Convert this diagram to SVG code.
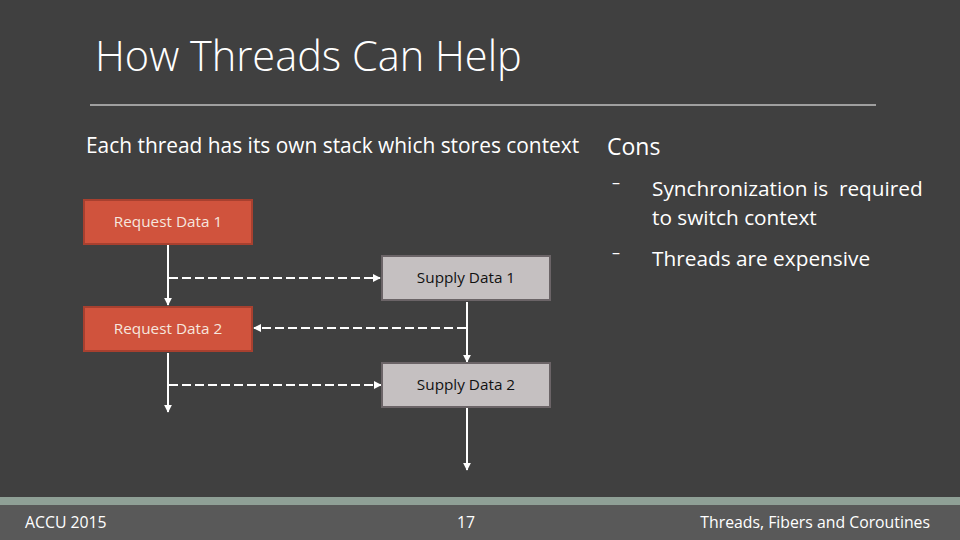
<svg xmlns="http://www.w3.org/2000/svg" width="960" height="540" viewBox="0 0 960 540">
<style>
.t{font-family:"Open Sans","Liberation Sans",sans-serif;fill:#ffffff}
.req rect{fill:#d0533d;stroke:#a8402f;stroke-width:2}
.req text{font-family:"Open Sans","Liberation Sans",sans-serif;font-size:15.3px;fill:#f6e6de;text-anchor:middle}
.sup rect{fill:#c5c0c1;stroke:#6b6467;stroke-width:2}
.sup text{font-family:"Open Sans","Liberation Sans",sans-serif;font-size:15.3px;fill:#111;text-anchor:middle}
.ln{stroke:#ffffff;stroke-width:2;fill:none}
.ds{stroke:#ffffff;stroke-width:2;fill:none;stroke-dasharray:9 4}
</style>
<defs>
<marker id="ah" viewBox="0 0 10 10" refX="9" refY="5" markerWidth="4" markerHeight="4" orient="auto" markerUnits="strokeWidth">
<path d="M0,0 L10,5 L0,10 z" fill="#ffffff"/>
</marker>
</defs>
<rect x="0" y="0" width="960" height="540" fill="#404040"/>
<rect x="0" y="497" width="960" height="8" fill="#8fa096"/>
<rect x="0" y="505" width="960" height="35" fill="#595959"/>
<text class="t" x="95" y="71" font-size="41.5" font-weight="300">How Threads Can Help</text>
<line x1="90" y1="105" x2="876" y2="105" stroke="#ffffff" stroke-width="1"/>
<text class="t" x="86" y="153" font-size="20.9">Each thread has its own stack which stores context</text>
<text class="t" x="607" y="155" font-size="23">Cons</text>
<text class="t" x="612" y="188" font-size="16">–</text>
<text class="t" x="652" y="196" font-size="20.8" xml:space="preserve">Synchronization is  required</text>
<text class="t" x="652" y="225" font-size="20.8">to switch context</text>
<text class="t" x="612" y="258" font-size="16">–</text>
<text class="t" x="652" y="266" font-size="20.8">Threads are expensive</text>
<g id="connectors">
<line class="ln" x1="168" y1="245" x2="168" y2="305" marker-end="url(#ah)"/>
<line class="ln" x1="168" y1="353" x2="168" y2="412" marker-end="url(#ah)"/>
<line class="ln" x1="467" y1="302" x2="467" y2="362" marker-end="url(#ah)"/>
<line class="ln" x1="467" y1="408" x2="467" y2="470" marker-end="url(#ah)"/>
<line class="ds" x1="169" y1="278" x2="380" y2="278" marker-end="url(#ah)"/>
<line class="ds" x1="466" y1="328" x2="254" y2="328" marker-end="url(#ah)"/>
<line class="ds" x1="169" y1="385" x2="381" y2="385" marker-end="url(#ah)"/>
</g>
<g id="request1" class="req"><rect x="84" y="200" width="168" height="44"/><text x="168" y="227">Request Data 1</text></g>
<g id="supply1" class="sup"><rect x="382" y="256" width="168" height="44"/><text x="466" y="283">Supply Data 1</text></g>
<g id="request2" class="req"><rect x="84" y="307" width="168" height="44"/><text x="168" y="334">Request Data 2</text></g>
<g id="supply2" class="sup"><rect x="382" y="363" width="168" height="44"/><text x="466" y="390">Supply Data 2</text></g>
<text class="t" x="25" y="528" font-size="15.8">ACCU 2015</text>
<text class="t" x="466" y="528" font-size="15.8" text-anchor="middle">17</text>
<text class="t" x="930" y="528" font-size="15.8" text-anchor="end">Threads, Fibers and Coroutines</text>
</svg>
